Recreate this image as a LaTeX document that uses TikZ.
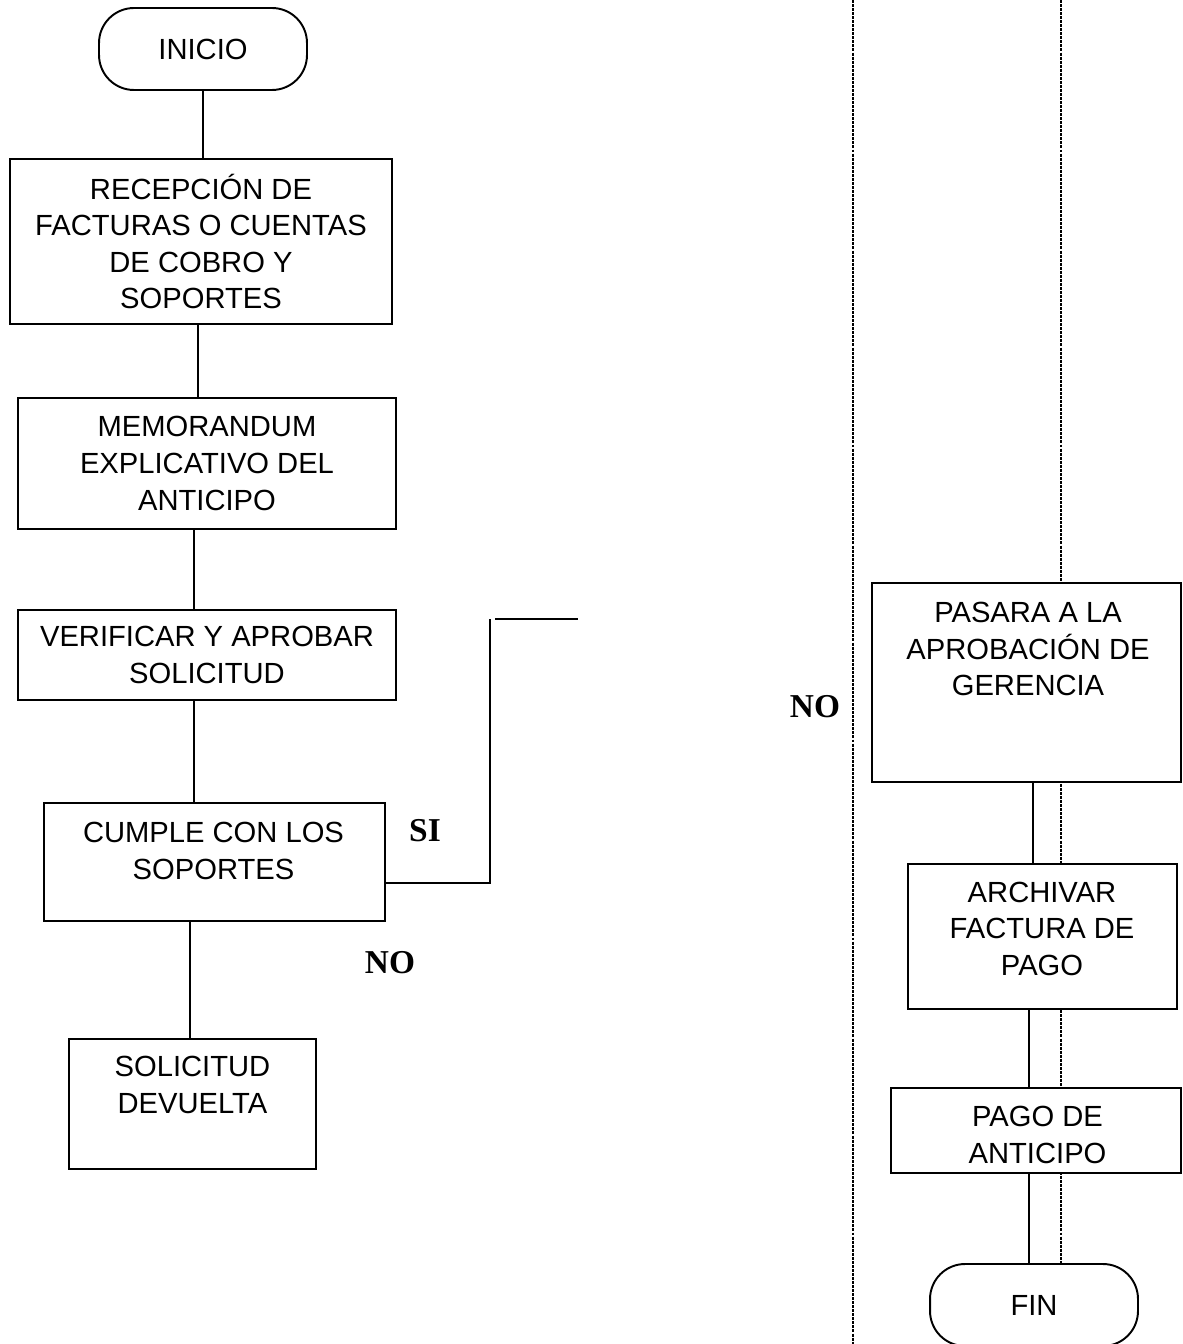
\documentclass[tikz,border=0pt]{standalone}
\usepackage{fontspec}
\setmainfont{Liberation Sans}
\newfontfamily\labelfont{Liberation Serif}
\begin{document}
\begin{tikzpicture}[x=0.02cm, y=-0.02cm,
  box/.style={draw, line width=1.1pt, fill=white, inner sep=0pt, align=center,
    font=\fontsize{16.6pt}{20.8pt}\selectfont},
  term/.style={box, rounded corners=0.7cm, minimum width=4.16cm, minimum height=1.64cm},
  txt/.style={inner sep=0pt, align=center, font=\fontsize{16.6pt}{20.8pt}\selectfont},
  lbl/.style={inner sep=0pt, font=\labelfont\bfseries\fontsize{19pt}{22pt}\selectfont},
  link/.style={line width=1.1pt},
  lane/.style={line width=0.7pt, dash pattern=on 1.7pt off 0.6pt}]
  \useasboundingbox (0,0) rectangle (1182,1344);

  % swimlane borders
  \coordinate (laneAtop) at (853,0);  \coordinate (laneAbot) at (853,1344);
  \coordinate (laneBtop) at (1061,0); \coordinate (laneBbot) at (1061,1344);
  \draw[lane] (laneAtop) -- (laneAbot);
  \draw[lane] (laneBtop) -- (laneBbot);

  % left column
  \node[term] (inicio) at (203,49) {INICIO};
  \node[box, minimum width=7.64cm, minimum height=3.3cm] (rec) at (201,241.5)
    {RECEPCIÓN DE\\FACTURAS O CUENTAS\\DE COBRO Y\\SOPORTES};
  \node[box, minimum width=7.56cm, minimum height=2.62cm] (mem) at (207,463.5)
    {MEMORANDUM\\EXPLICATIVO DEL\\ANTICIPO};
  \node[box, minimum width=7.56cm, minimum height=1.8cm] (ver) at (207,655)
    {VERIFICAR Y APROBAR\\SOLICITUD};
  \node[box, minimum width=6.82cm, minimum height=2.36cm] (cum) at (214.5,862) {};
  \node[txt] (cumT) at (213.5,851) {CUMPLE CON LOS\\SOPORTES};
  \node[box, minimum width=4.94cm, minimum height=2.6cm] (sol) at (192.5,1104) {};
  \node[txt] (solT) at (192.5,1085) {SOLICITUD\\DEVUELTA};

  % right column
  \node[box, minimum width=6.18cm, minimum height=3.98cm] (pas) at (1026.5,682.5) {};
  \node[txt] (pasT) at (1028,649) {PASARA A LA\\APROBACIÓN DE\\GERENCIA};
  \node[box, minimum width=5.38cm, minimum height=2.9cm] (arc) at (1042.5,936.5) {};
  \node[txt] (arcT) at (1042,928.5) {ARCHIVAR\\FACTURA DE\\PAGO};
  \node[box, minimum width=5.8cm, minimum height=1.7cm] (pag) at (1036,1130.5) {};
  \node[txt] (pagT) at (1037.5,1135) {PAGO DE\\ANTICIPO};
  \node[term] (fin) at (1034,1305) {FIN};

  % connectors
  \coordinate (cB) at (198,0);  \coordinate (cC) at (194,0);
  \coordinate (cD) at (194,0);  \coordinate (cE) at (190,0);
  \coordinate (rA) at (1033,0); \coordinate (rB) at (1029,0);
  \draw[link] (inicio.south) -- (inicio.south |- rec.north);
  \draw[link] (rec.south -| cB) -- (mem.north -| cB);
  \draw[link] (mem.south -| cC) -- (ver.north -| cC);
  \draw[link] (ver.south -| cD) -- (cum.north -| cD);
  \draw[link] (cum.south -| cE) -- (sol.north -| cE);
  \draw[link] (pas.south -| rA) -- (arc.north -| rA);
  \draw[link] (arc.south -| rB) -- (pag.north -| rB);
  \draw[link] (pag.south -| rB) -- (fin.north -| rB);

  \coordinate (siA) at (490,883); \coordinate (siB) at (490,619);
  \coordinate (siC) at (495,619); \coordinate (siD) at (578,619);
  \draw[link] (cum.east |- siA) -- (siA) -- (siB);
  \draw[link] (siC) -- (siD);

  % labels
  \node[lbl] (si) at (425,831) {SI};
  \node[lbl] (noA) at (390,963) {NO};
  \node[lbl] (noB) at (815,707) {NO};
\end{tikzpicture}
\end{document}
